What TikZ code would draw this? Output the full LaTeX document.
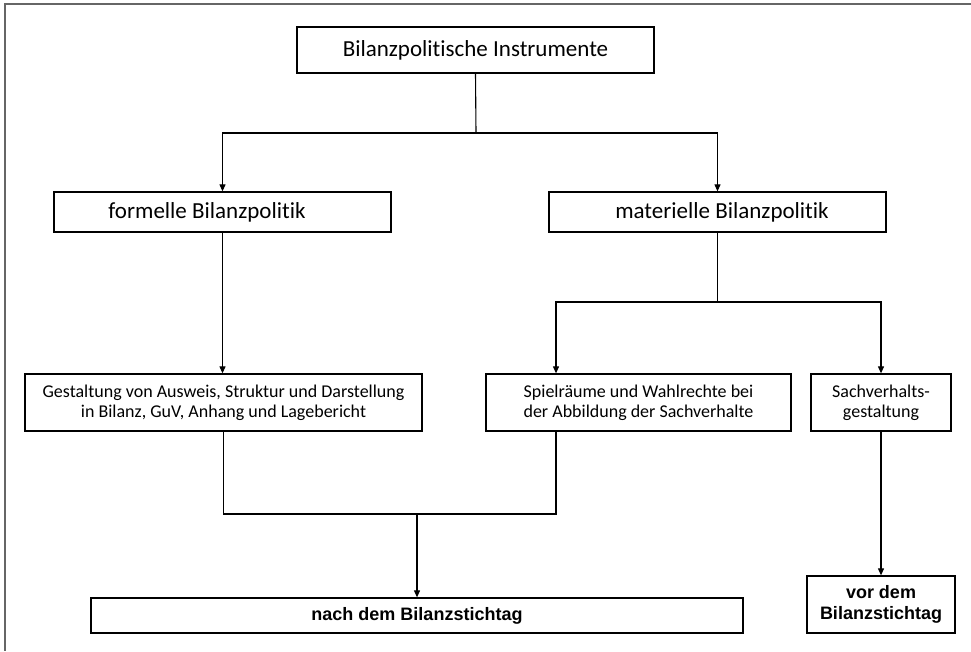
\documentclass[tikz,border=0pt]{standalone}
\usepackage{fontspec}
\setmainfont{Carlito}[Ligatures=NoCommon]
\newfontfamily\boldsans{Liberation Sans}
\usetikzlibrary{arrows.meta}

\begin{document}
\begin{tikzpicture}[x=1pt, y=-1pt, >={Triangle[length=7pt,width=6pt]}, line width=1.1pt,
    box/.style={draw, line width=1.3pt, inner sep=0pt, align=center, font=\fontsize{18}{20}\selectfont},
    headfont/.style={font=\fontsize{23}{26}\selectfont},
    head/.style={box, headfont},
    result/.style={box, font=\boldsans\bfseries\fontsize{18}{20.7}\selectfont}]
    \useasboundingbox (0,0) rectangle (971,651);
    \draw[black!60, line width=2pt] (971,4) -- (5,4) -- (5,651);

    \node[head, minimum width=357pt, minimum height=46pt] (instr) at (475.5,50) {Bilanzpolitische Instrumente};
    \node[head, minimum width=337pt, minimum height=40pt,
          label={[headfont, xshift=-15.5pt]center:formelle Bilanzpolitik}] (formal) at (222.5,212) {};
    \node[head, minimum width=337pt, minimum height=40pt,
          label={[headfont, xshift=4.5pt]center:materielle Bilanzpolitik}] (material) at (717.5,212) {};
    \node[box, minimum width=397pt, minimum height=57pt] (design) at (223.5,402.5)
        {Gestaltung von Ausweis, Struktur und Darstellung\\in Bilanz, GuV, Anhang und Lagebericht};
    \node[box, minimum width=305pt, minimum height=57pt] (options) at (638.5,402.5)
        {Spielräume und Wahlrechte bei\\der Abbildung der Sachverhalte};
    \node[box, minimum width=140pt, minimum height=57pt] (facts) at (881,402.5)
        {Sachverhalts-\\gestaltung};
    \node[result, minimum width=652pt, minimum height=35pt] (after) at (417,615.5) {nach dem Bilanzstichtag};
    \node[result, minimum width=148pt, minimum height=57pt] (before) at (881,604.5) {vor dem\\Bilanzstichtag};

    \coordinate (split) at (476,133);
    \coordinate (branch) at (717.5,302);
    \coordinate (merge) at (417,514);

    \draw (instr.south) -- (split);
    \draw[->] (split) -| (formal.north);
    \draw[->] (split) -| (material.north);
    \draw[->] (formal.south) -- (formal.south |- design.north);
    \draw (material.south) -- (branch);
    \draw[->] (branch) -| ([xshift=-82.5pt]options.north);
    \draw[->] (branch) -| (facts.north);
    \draw (design.south) |- (merge);
    \draw ([xshift=-82.5pt]options.south) |- (merge);
    \draw[->] (merge) -- (after.north);
    \draw[->] (facts.south) -- (before.north);
\end{tikzpicture}
\end{document}
